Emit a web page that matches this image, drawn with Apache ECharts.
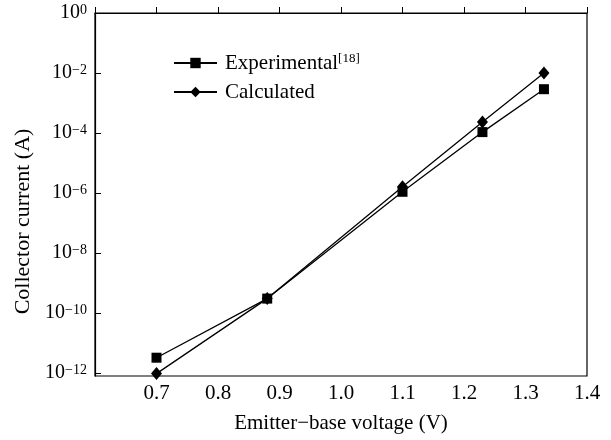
<!DOCTYPE html>
<html><head><meta charset="utf-8">
<script src="https://cdn.jsdelivr.net/npm/echarts@6/dist/echarts.min.js"></script>
<style>html,body{margin:0;padding:0;background:#fff}#c{width:611px;height:440px}</style>
</head><body><div id="c"></div>
<script>
// Data (collector current in A, stored as log10 values)
const voltage = [0.70, 0.88, 1.10, 1.23, 1.33];
const experimentalLog = [-11.49, -9.52, -5.96, -3.97, -2.54];
const calculatedLog = [-12.02, -9.52, -5.79, -3.63, -2.00];
const yTickExp = [-12, -10, -8, -6, -4, -2, 0];
const xTicks = [0.7, 0.8, 0.9, 1.0, 1.1, 1.2, 1.3, 1.4];

const font = 'Liberation Serif';
const chart = echarts.init(document.getElementById('c'), null, {renderer: 'canvas'});
const pts = (arr) => voltage.map((v, i) => [v, arr[i]]);

chart.setOption({
  backgroundColor: '#fff',
  animation: false,
  grid: {left: 95, right: 24, top: 13, bottom: 64, show: true, borderColor: '#000', borderWidth: 1.2,
         outerBoundsMode: 'none', containLabel: false},
  legend: {
    orient: 'vertical', left: 173, top: 52, padding: 0, itemWidth: 43, itemHeight: 13, itemGap: 7,
    data: ['Experimental', 'Calculated'],
    textStyle: {
      fontFamily: font, fontSize: 21, color: '#000', lineHeight: 22, padding: [0, 0, 0, 3],
      rich: {
        a: {fontFamily: font, fontSize: 21, color: '#000', lineHeight: 22},
        s: {fontFamily: font, fontSize: 13, color: '#000', lineHeight: 22, verticalAlign: 'top', padding: [0, 0, 9, 0]}
      }
    },
    formatter: (n) => n === 'Experimental' ? '{a|Experimental}{s|[18]}' : '{a|' + n + '}'
  },
  xAxis: {
    type: 'value', min: 0.6, max: 1.4, interval: 0.1,
    name: 'Emitter\u2212base voltage (V)', nameLocation: 'middle', nameGap: 37,
    nameTextStyle: {fontFamily: font, fontSize: 21, color: '#000'},
    axisLine: {lineStyle: {color: '#000', width: 1.2}},
    axisTick: {inside: true, length: 6, lineStyle: {color: '#000'}},
    splitLine: {show: false},
    axisLabel: {
      fontFamily: font, fontSize: 21, color: '#000', margin: 7,
      formatter: (v) => xTicks.some(t => Math.abs(t - v) < 1e-6) ? v.toFixed(1) : ''
    }
  },
  yAxis: {
    type: 'value', min: -12.1, max: 0,
    name: 'Collector current (A)', nameLocation: 'middle', nameGap: 58,
    nameTextStyle: {fontFamily: font, fontSize: 22, color: '#000', padding: [0, 54, 0, 0]},
    axisLine: {lineStyle: {color: '#000', width: 1.2}},
    axisTick: {inside: true, length: 6, lineStyle: {color: '#000'}, customValues: yTickExp},
    splitLine: {show: false},
    axisLabel: {
      customValues: yTickExp, margin: 8,
      formatter: (v) => '{b|10}{s|' + (v === 0 ? '0' : '\u2212' + Math.abs(v)) + '}',
      rich: {
        b: {fontFamily: font, fontSize: 20, color: '#000', lineHeight: 20},
        s: {fontFamily: font, fontSize: 14, color: '#000', lineHeight: 20, verticalAlign: 'top', padding: [0, 0, 9, 0]}
      }
    }
  },
  series: [
    {name: 'Experimental', type: 'line', data: pts(experimentalLog), symbol: 'rect', symbolSize: 10,
     lineStyle: {color: '#000', width: 1.3}, itemStyle: {color: '#000'}},
    {name: 'Calculated', type: 'line', data: pts(calculatedLog), symbol: 'diamond', symbolSize: [11, 13],
     lineStyle: {color: '#000', width: 1.3}, itemStyle: {color: '#000'}}
  ]
});
</script></body></html>
